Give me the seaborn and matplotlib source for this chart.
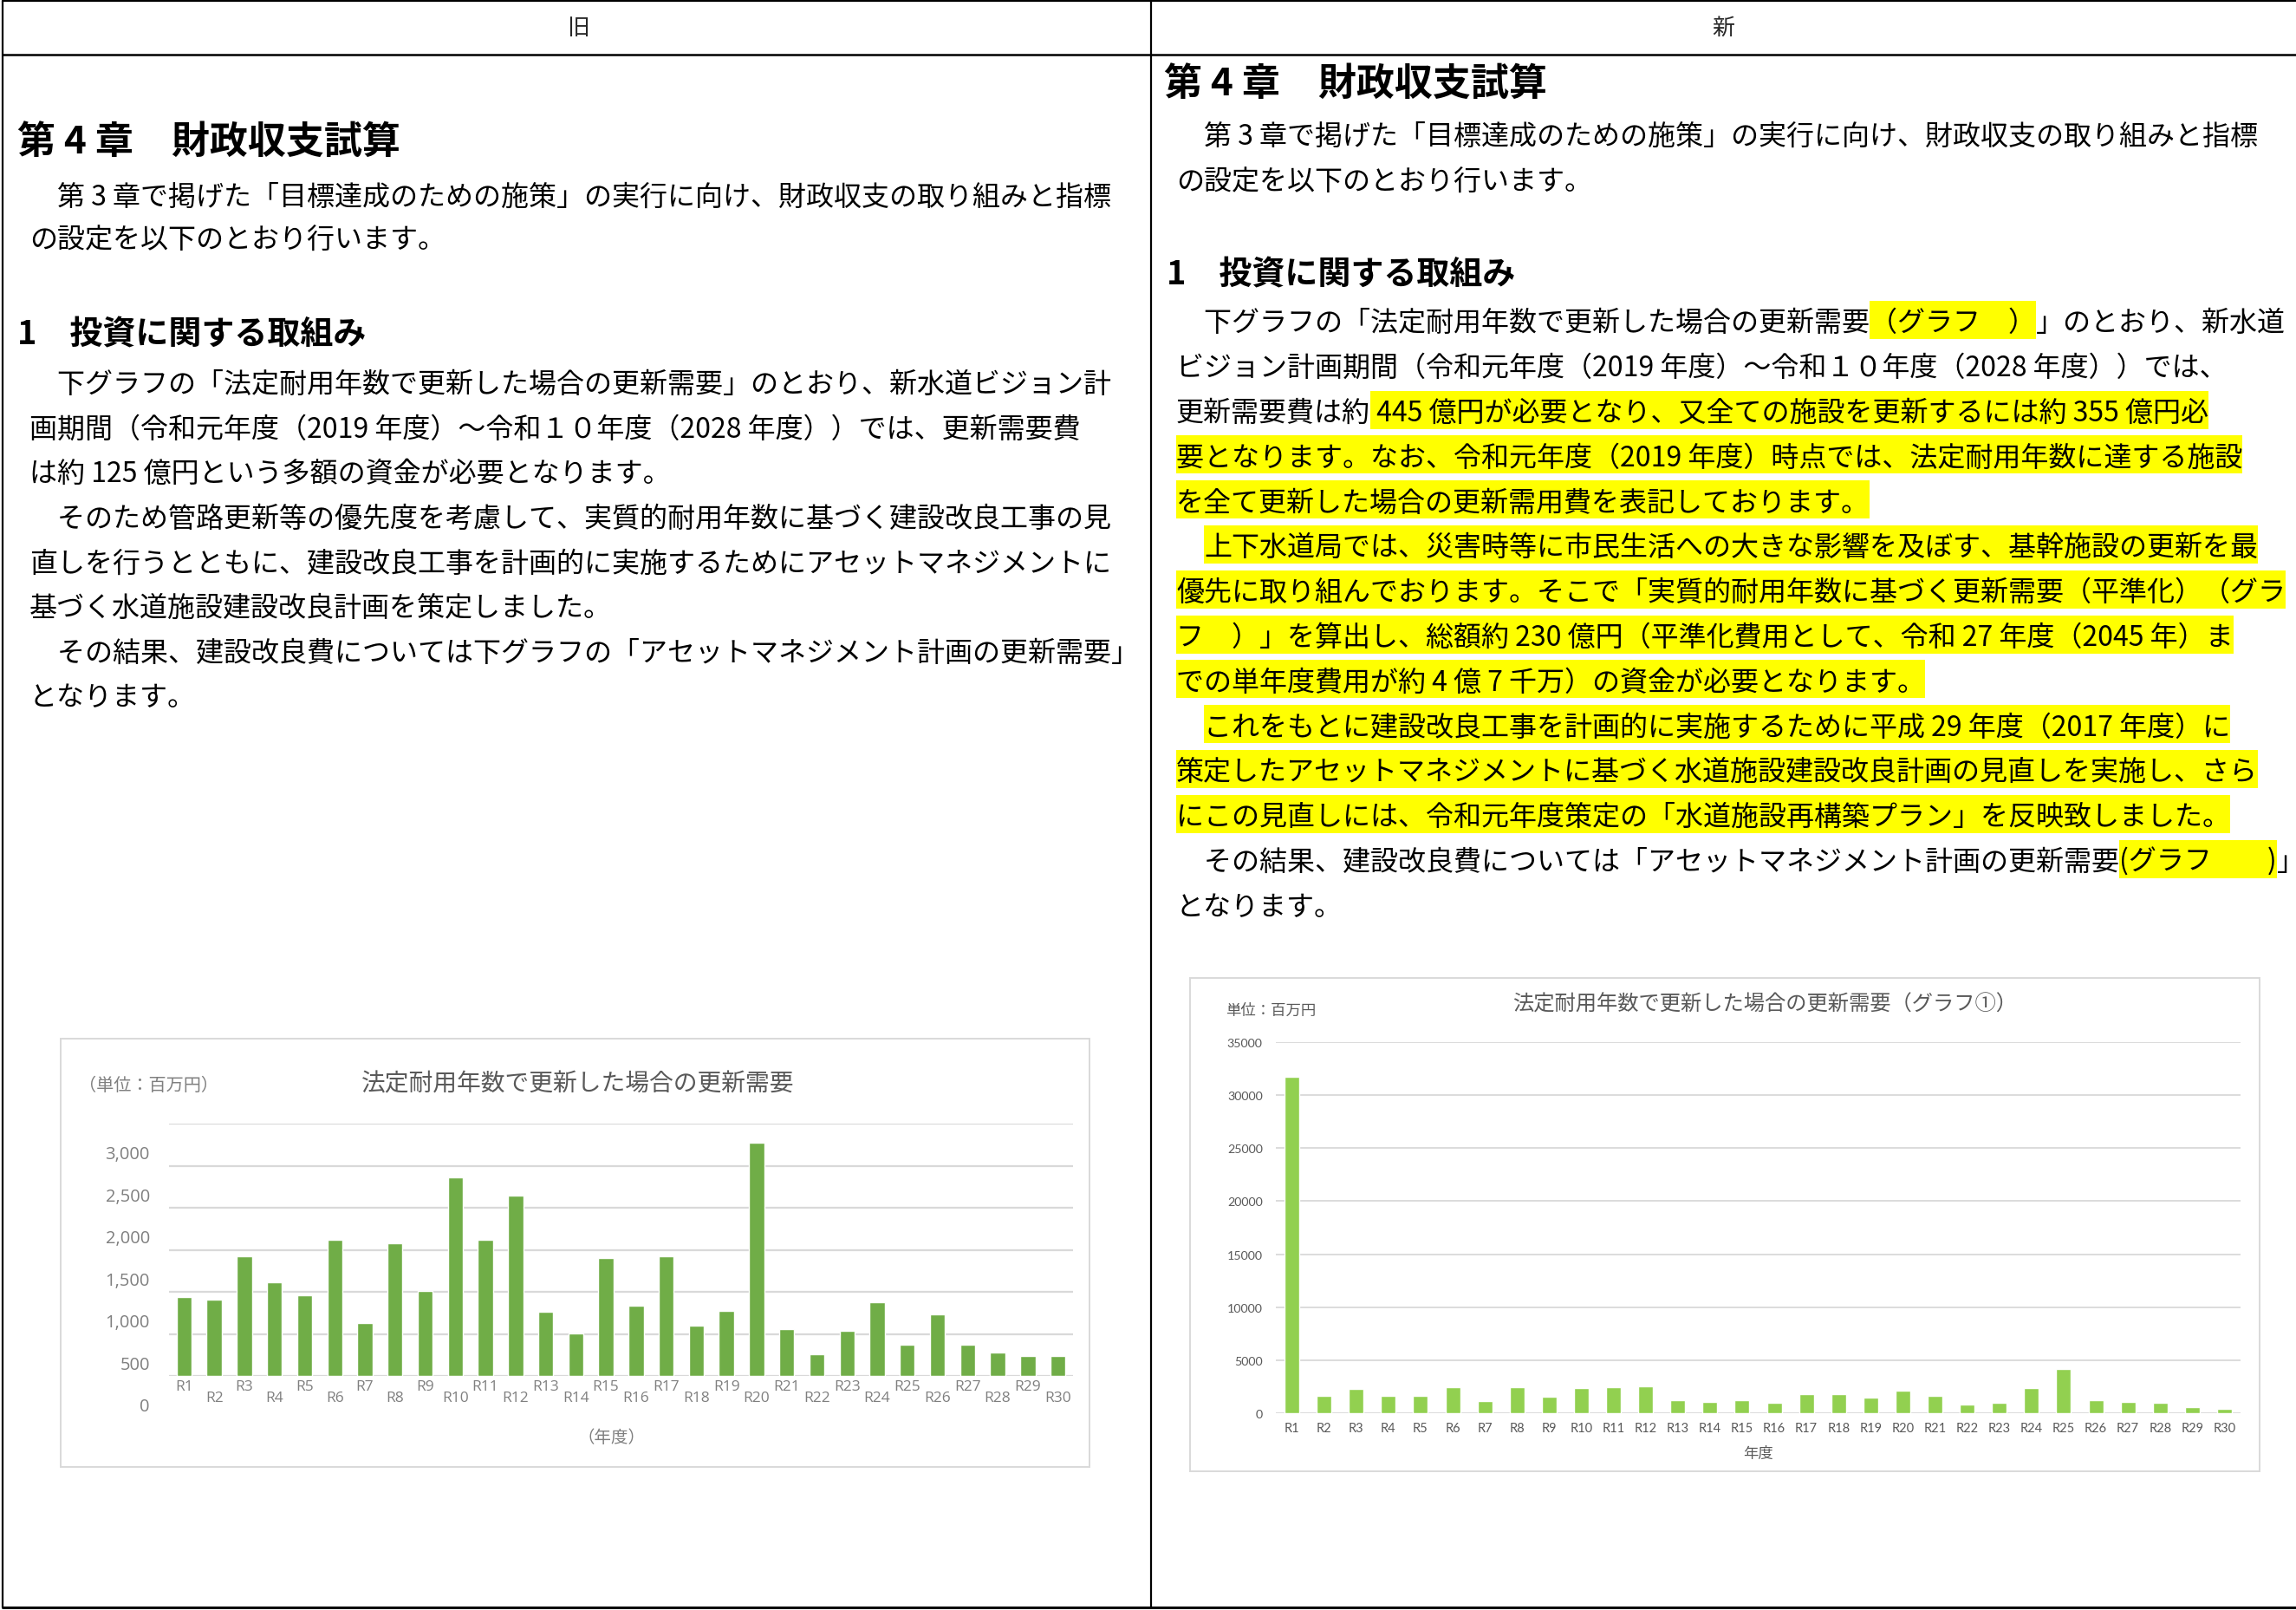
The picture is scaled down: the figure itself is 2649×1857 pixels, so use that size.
import matplotlib
matplotlib.use('Agg')
import matplotlib.pyplot as plt
import matplotlib.transforms as mtransforms
from matplotlib.patches import Rectangle
import seaborn as sns

W, H = 2649, 1858
DPI = 100

# data (unit: million yen)
years = ['R1', 'R2', 'R3', 'R4', 'R5', 'R6', 'R7', 'R8', 'R9', 'R10',
         'R11', 'R12', 'R13', 'R14', 'R15', 'R16', 'R17', 'R18', 'R19', 'R20',
         'R21', 'R22', 'R23', 'R24', 'R25', 'R26', 'R27', 'R28', 'R29', 'R30']
old_demand = [938, 903, 1424, 1110, 959, 1617, 628, 1576, 1010, 2359,
              1617, 2148, 759, 510, 1397, 831, 1424, 597, 776, 2772,
              552, 262, 531, 879, 366, 731, 372, 279, 238, 241]
new_demand = [31700, 1600, 2250, 1670, 1600, 2450, 1120, 2450, 1550, 2400,
              2450, 2520, 1240, 1030, 1240, 970, 1820, 1820, 1480, 2090,
              1600, 820, 970, 2400, 4150, 1240, 1030, 970, 550, 400]
old_yticks = [0, 500, 1000, 1500, 2000, 2500, 3000]
old_ytick_labels = ['0', '500', '1,000', '1,500', '2,000', '2,500', '3,000']
new_yticks = [0, 5000, 10000, 15000, 20000, 25000, 30000, 35000]

old_title = '法定耐用年数で更新した場合の更新需要'
old_unit = '（単位：百万円）'
old_xlabel = '（年度）'
new_title = '法定耐用年数で更新した場合の更新需要（グラフ①）'
new_unit = '単位：百万円'
new_xlabel = '年度'

# document text
chapter = '第 4 章　財政収支試算'
section = '1　投資に関する取組み'
intro = ['　第 3 章で掲げた「目標達成のための施策」の実行に向け、財政収支の取り組みと指標',
         'の設定を以下のとおり行います。']
old_body = ['　下グラフの「法定耐用年数で更新した場合の更新需要」のとおり、新水道ビジョン計',
            '画期間（令和元年度（2019 年度）～令和１０年度（2028 年度））では、更新需要費',
            'は約 125 億円という多額の資金が必要となります。',
            '　そのため管路更新等の優先度を考慮して、実質的耐用年数に基づく建設改良工事の見',
            '直しを行うとともに、建設改良工事を計画的に実施するためにアセットマネジメントに',
            '基づく水道施設建設改良計画を策定しました。',
            '　その結果、建設改良費については下グラフの「アセットマネジメント計画の更新需要」',
            'となります。']
# (text, highlighted) segments per line
new_body = [
    [('　下グラフの「法定耐用年数で更新した場合の更新需要', False), ('（グラフ　）', True), ('」のとおり、新水道', False)],
    [('ビジョン計画期間（令和元年度（2019 年度）～令和１０年度（2028 年度））では、', False)],
    [('更新需要費は約', False), (' 445 億円が必要となり、又全ての施設を更新するには約 355 億円必', True)],
    [('要となります。なお、令和元年度（2019 年度）時点では、法定耐用年数に達する施設', True)],
    [('を全て更新した場合の更新需用費を表記しております。', True)],
    [('　', False), ('上下水道局では、災害時等に市民生活への大きな影響を及ぼす、基幹施設の更新を最', True)],
    [('優先に取り組んでおります。そこで「実質的耐用年数に基づく更新需要（平準化）（グラ', True)],
    [('フ　）」を算出し、総額約 230 億円（平準化費用として、令和 27 年度（2045 年）ま', True)],
    [('での単年度費用が約 4 億 7 千万）の資金が必要となります。', True)],
    [('　', False), ('これをもとに建設改良工事を計画的に実施するために平成 29 年度（2017 年度）に', True)],
    [('策定したアセットマネジメントに基づく水道施設建設改良計画の見直しを実施し、さら', True)],
    [('にこの見直しには、令和元年度策定の「水道施設再構築プラン」を反映致しました。', True)],
    [('　その結果、建設改良費については「アセットマネジメント計画の更新需要', False), ('(グラフ　　)', True), ('｣', False)],
    [('となります。', False)],
]

sns.set_style('white')
plt.rcParams['font.family'] = ['Noto Sans CJK JP', 'DejaVu Sans']

fig = plt.figure(figsize=(W / DPI, H / DPI), dpi=DPI)
page = fig.add_axes([0, 0, 1, 1])
page.set_xlim(0, W)
page.set_ylim(H, 0)
page.axis('off')
renderer = fig.canvas.get_renderer()


def pt(px):
    return px * 72 / DPI


def put_line(x, yc, segments, size_px, weight='normal'):
    base = yc + 0.38 * size_px
    for s, hl in segments:
        t = page.text(x, base, s, fontsize=pt(size_px), fontweight=weight,
                      va='baseline', ha='left', color='black', zorder=3)
        w = t.get_window_extent(renderer).width
        if hl:
            page.add_patch(Rectangle((x, yc - 22), w, 44, facecolor='#ffff00',
                                     edgecolor='none', zorder=2))
        x += w


def px_axes(x0, y0, x1, y1):
    return fig.add_axes([x0 / W, 1 - y1 / H, (x1 - x0) / W, (y1 - y0) / H])


# table frame
page.plot([3, W], [2, 2], color='black', lw=1.6)
page.plot([3, W], [64, 64], color='black', lw=1.8)
page.plot([3, W], [1855, 1855], color='black', lw=2.2)
page.plot([3, 3], [2, 1855], color='black', lw=1.6)
page.plot([1328, 1328], [2, 1855], color='black', lw=1.6)
page.text(667, 32, '旧', fontsize=pt(26), ha='center', va='center')
page.text(1988, 32, '新', fontsize=pt(26), ha='center', va='center')

# left column (old)
BODY = 32
put_line(20, 160, [(chapter, False)], 44, 'bold')
put_line(34, 225, [(intro[0], False)], BODY)
put_line(34, 275, [(intro[1], False)], BODY)
put_line(20, 383, [(section, False)], 38, 'bold')
for i, line in enumerate(old_body):
    put_line(34, 441 + i * 51.6, [(line, False)], BODY)

# right column (new)
put_line(1343, 93, [(chapter, False)], 44, 'bold')
put_line(1357, 155, [(intro[0], False)], BODY)
put_line(1357, 208, [(intro[1], False)], BODY)
put_line(1346, 314, [(section, False)], 38, 'bold')
for i, segs in enumerate(new_body):
    put_line(1357, 370 + i * 51.8, segs, BODY)

# ---- old chart ----
page.add_patch(Rectangle((70, 1199), 1187, 494, facecolor='white',
                         edgecolor='#d9d9d9', lw=1.4, zorder=1))
page.text(667, 1250, old_title, fontsize=20, color='#595959', ha='center', va='center', zorder=3)
page.text(91, 1252, old_unit, fontsize=14.5, color='#7f7f7f', ha='left', va='center', zorder=3)
page.text(706, 1659, old_xlabel, fontsize=14, color='#7f7f7f', ha='center', va='center', zorder=3)

ax1 = px_axes(195, 1297, 1238, 1588)
sns.barplot(x=years, y=old_demand, color='#70ad47', saturation=1, width=0.5, ax=ax1)
ax1.set_xlim(-0.5, 29.5)
ax1.set_ylim(0, 3000)
ax1.set_yticks(old_yticks)
ax1.set_yticklabels(old_ytick_labels)
ax1.yaxis.grid(True, color='#d9d9d9', lw=1.6)
ax1.set_axisbelow(True)
for sp in ax1.spines.values():
    sp.set_visible(False)
ax1.set_xlabel('')
ax1.set_ylabel('')
ax1.tick_params(axis='y', length=0, labelsize=14.5, labelcolor='#7f7f7f', pad=16)
ax1.tick_params(axis='x', length=0, labelsize=12.5, labelcolor='#7f7f7f', pad=3)
# y labels sit lower than their gridlines in the original
for lbl in ax1.get_yticklabels():
    lbl.set_family(['Open Sans', 'DejaVu Sans'])
    lbl.set_transform(lbl.get_transform() + mtransforms.ScaledTranslation(0, -0.33, fig.dpi_scale_trans))
# staggered x labels
for i, lbl in enumerate(ax1.get_xticklabels()):
    lbl.set_family(['Open Sans', 'DejaVu Sans'])
    if i % 2 == 1:
        lbl.set_transform(lbl.get_transform() + mtransforms.ScaledTranslation(0, -0.13, fig.dpi_scale_trans))

# ---- new chart ----
page.add_patch(Rectangle((1373, 1129), 1234, 569, facecolor='white',
                         edgecolor='#d9d9d9', lw=1.4, zorder=1))
page.text(2036, 1159, new_title, fontsize=17.5, color='#595959', ha='center', va='center', zorder=3)
page.text(1414, 1166, new_unit, fontsize=12.5, color='#595959', ha='left', va='center', zorder=3)
page.text(2029, 1677, new_xlabel, fontsize=12.5, color='#595959', ha='center', va='center', zorder=3)

ax2 = px_axes(1472, 1203, 2585, 1631)
sns.barplot(x=years, y=new_demand, color='#92d050', saturation=1, width=0.46, ax=ax2)
ax2.set_xlim(-0.5, 29.5)
ax2.set_ylim(0, 35000)
ax2.set_yticks(new_yticks)
ax2.yaxis.grid(True, color='#d9d9d9', lw=1.3)
ax2.set_axisbelow(True)
for sp in ax2.spines.values():
    sp.set_visible(False)
ax2.set_xlabel('')
ax2.set_ylabel('')
ax2.tick_params(axis='y', length=0, labelsize=10.3, labelcolor='#595959', pad=11)
ax2.tick_params(axis='x', length=0, labelsize=10.5, labelcolor='#595959', pad=7)
for lbl in ax2.get_yticklabels() + ax2.get_xticklabels():
    lbl.set_family(['Lato', 'DejaVu Sans'])

fig.savefig('out.png', dpi=DPI)
